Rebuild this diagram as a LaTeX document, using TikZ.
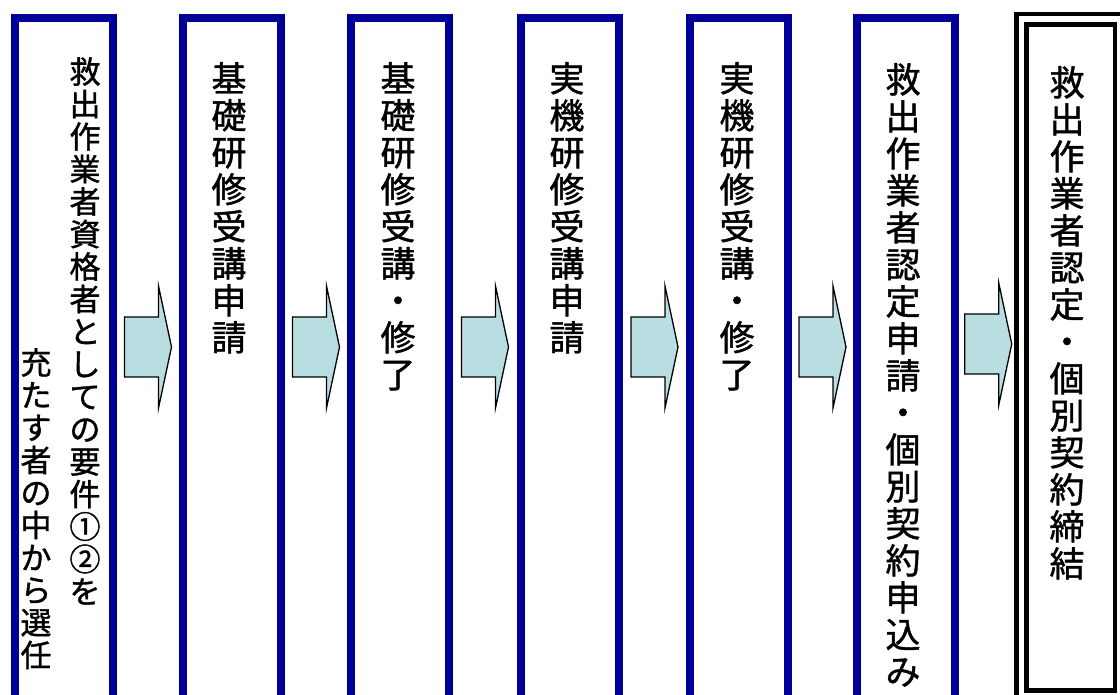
\documentclass[tikz,border=0pt]{standalone}
\usepackage{fontspec}
\newfontfamily\cjk[FakeBold=1.2]{Noto Sans CJK JP}
\usetikzlibrary{calc}
\definecolor{boxblue}{RGB}{0,0,153}
\definecolor{arrfill}{RGB}{185,222,225}
\tikzset{
  bluebox/.style={draw=boxblue, line width=8pt, minimum width=98pt, minimum height=800pt, inner sep=0pt, outer sep=0pt, anchor=north west},
  blackbox/.style={draw=black, line width=4.5pt, inner sep=0pt, outer sep=0pt, anchor=north west},
  vtext/.style={anchor=north, inner sep=0pt, align=center, font=\cjk\fontsize{35}{37}\selectfont},
  vsmall/.style={anchor=north, inner sep=0pt, align=center, font=\cjk\fontsize{31}{32.5}\selectfont},
  flowarrow/.style={draw=black, line width=1.3pt, fill=arrfill, line join=miter}
}
\newcommand\blockarr[1]{\draw[flowarrow] ($(#1)+(-23.5,-30)$) -- ++(34,0) -- ++(0,-31) -- ++(13,61) -- ++(-13,61) -- ++(0,-31) -- ++(-34,0) -- cycle;}
\begin{document}
\begin{tikzpicture}[x=1pt,y=-1pt]
\useasboundingbox (0,0) rectangle (1120,695);
\clip (0,0) rectangle (1120,695);
\fill[white] (0,0) rectangle (1120,695);
% boxes
\node[bluebox] (b1) at (15,18) {};
\node[bluebox] (b2) at (183,18) {};
\node[bluebox] (b3) at (351,18) {};
\node[bluebox] (b4) at (521,18) {};
\node[bluebox] (b5) at (690,18) {};
\node[bluebox] (b6) at (857,18) {};
\node[blackbox, minimum width=140pt, minimum height=800pt] (b7o) at (1016.5,14) {};
\node[blackbox, minimum width=88.5pt, minimum height=666pt] (b7) at (1026.5,24.5) {};
% texts
\node[vsmall] (t1a) at (85,57) {救\\出\\作\\業\\者\\資\\格\\者\\と\\し\\て\\の\\要\\件\\①\\②\\を};
\node[vsmall] (t1b) at (36,348) {充\\た\\す\\者\\の\\中\\か\\ら\\選\\任};
\node[vtext] (t2) at (229,62) {基\\礎\\研\\修\\受\\講\\申\\請};
\node[vtext] (t3) at (398,62) {基\\礎\\研\\修\\受\\講\\・\\修\\了};
\node[vtext] (t4) at (567,62) {実\\機\\研\\修\\受\\講\\申\\請};
\node[vtext] (t5) at (737,62) {実\\機\\研\\修\\受\\講\\・\\修\\了};
\node[vtext] (t6) at (903,63) {救\\出\\作\\業\\者\\認\\定\\申\\請\\・\\個\\別\\契\\約\\申\\込\\み};
\node[vtext] (t7) at (1067,66) {救\\出\\作\\業\\者\\認\\定\\・\\個\\別\\契\\約\\締\\結};
% arrow centres
\coordinate (m1) at ($(b1.east)!.5!(b2.west)$);
\coordinate (m2) at ($(b2.east)!.5!(b3.west)$);
\coordinate (m3) at ($(b3.east)!.5!(b4.west)$);
\coordinate (m4) at ($(b4.east)!.5!(b5.west)$);
\coordinate (m5) at ($(b5.east)!.5!(b6.west)$);
\coordinate (m6) at ($(b6.east)!.5!(b7o.west)+(2.5,0)$);
\coordinate (c1) at (m1 |- 0,347);
\coordinate (c2) at (m2 |- 0,347);
\coordinate (c3) at (m3 |- 0,347);
\coordinate (c4) at (m4 |- 0,347);
\coordinate (c5) at (m5 |- 0,347);
\coordinate (c6) at (m6 |- 0,344);
\blockarr{c1}
\blockarr{c2}
\blockarr{c3}
\blockarr{c4}
\blockarr{c5}
\blockarr{c6}
\end{tikzpicture}
\end{document}
